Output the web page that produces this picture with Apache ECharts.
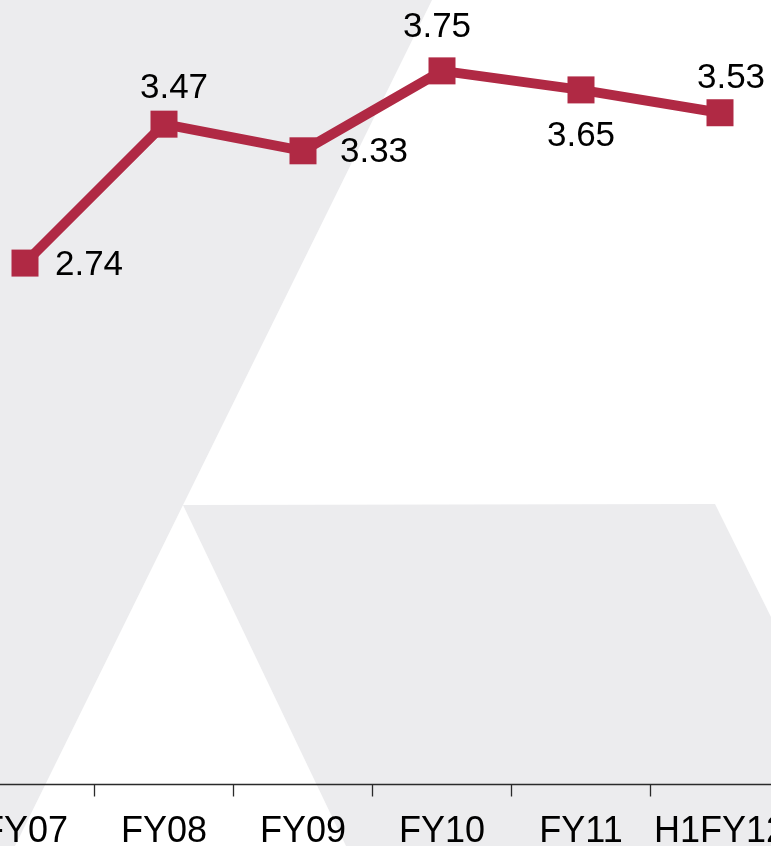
<!DOCTYPE html>
<html>
<head>
<meta charset="utf-8">
<title>Line chart</title>
<script src="https://cdn.jsdelivr.net/npm/echarts@6/dist/echarts.min.js"></script>
<style>
  html, body { margin: 0; padding: 0; background: #ffffff; }
  #chart { width: 771px; height: 846px; }
</style>
</head>
<body>
<div id="chart"></div>
<script>
// Periods on the category axis
const periods = ['FY07', 'FY08', 'FY09', 'FY10', 'FY11', 'H1FY12'];
// Values per period
const values = [2.74, 3.47, 3.33, 3.75, 3.65, 3.53];
// Label offsets (px) from each marker centre
const labelOffsets = [[64, 2], [10, -36], [71, 2], [-5, -44], [0, 46], [11, -34]];

const chart = echarts.init(document.getElementById('chart'), null, { renderer: 'canvas' });

const FONT = '"Liberation Sans", Arial, sans-serif';
const SHADE = '#ececee';
const RED = '#b02944';

const seriesData = values.map((v, i) => ({
  value: v,
  label: { offset: labelOffsets[i] }
}));

chart.setOption({
  animation: false,
  backgroundColor: '#ffffff',
  graphic: [
    {
      type: 'polygon',
      z: -10,
      silent: true,
      shape: { points: [[0, 0], [432, 0], [183, 505], [15, 846], [0, 846]] },
      style: { fill: SHADE }
    },
    {
      type: 'polygon',
      z: -10,
      silent: true,
      shape: { points: [[183, 505], [715, 504], [771, 617], [771, 846], [346, 846]] },
      style: { fill: SHADE }
    }
  ],
  grid: {
    left: -44.5,
    right: -18.5,
    top: 23.3,
    bottom: 61.5,
    outerBoundsMode: 'none',
    containLabel: false
  },
  xAxis: {
    type: 'category',
    data: periods,
    boundaryGap: true,
    axisLine: { show: true, lineStyle: { color: '#2a2a2a', width: 1.3 } },
    axisTick: { show: true, length: 12, lineStyle: { color: '#2a2a2a', width: 1.3 } },
    axisLabel: {
      color: '#000000',
      fontFamily: FONT,
      fontSize: 36,
      margin: 30,
      interval: 0
    },
    splitLine: { show: false }
  },
  yAxis: {
    type: 'value',
    min: 0,
    max: 4,
    show: false,
    splitLine: { show: false }
  },
  series: [
    {
      type: 'line',
      data: seriesData,
      symbol: 'rect',
      symbolSize: 27,
      lineStyle: { color: RED, width: 10 },
      itemStyle: { color: RED },
      label: {
        show: true,
        position: 'inside',
        align: 'center',
        verticalAlign: 'middle',
        color: '#000000',
        fontFamily: FONT,
        fontSize: 35,
        formatter: p => p.value.toFixed(2)
      },
      z: 3
    }
  ]
});
</script>
</body>
</html>
